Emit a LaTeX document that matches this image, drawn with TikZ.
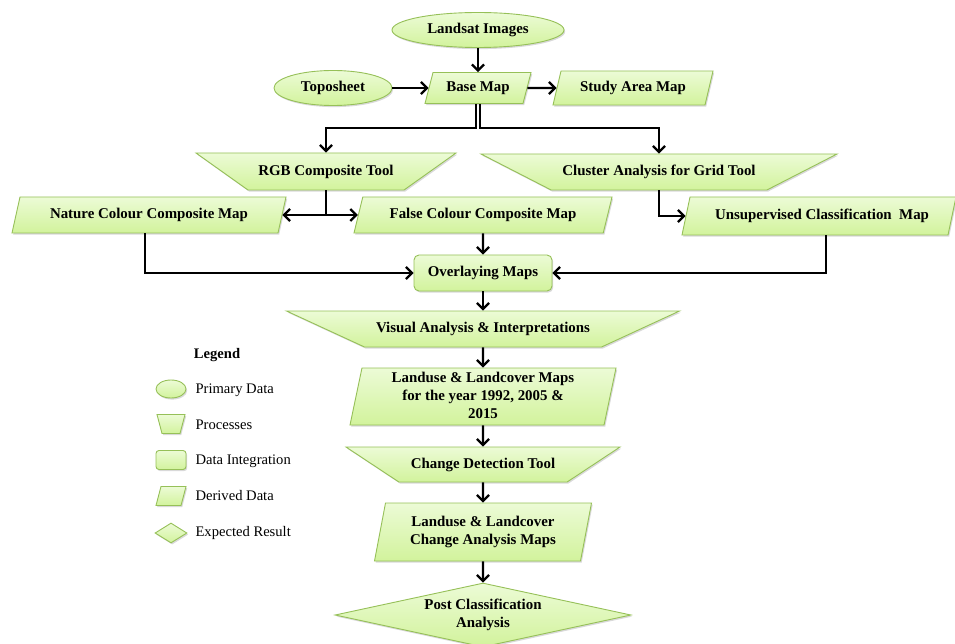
\documentclass[tikz,border=0pt]{standalone}
\usepackage{fontspec}
\setmainfont{Liberation Serif}
\usetikzlibrary{shapes.geometric,shadows,arrows.meta,calc}
\definecolor{bord}{RGB}{150,192,88}
\definecolor{ftop}{RGB}{236,251,214}
\definecolor{fbot}{RGB}{210,243,156}
\tikzset{
  box/.style={draw=bord, line width=0.9pt, top color=ftop, bottom color=fbot,
    drop shadow={shadow xshift=1.2pt, shadow yshift=-1.6pt, opacity=0.3},
    inner sep=0pt, align=center, text=black, font=\bfseries\fontsize{14.9}{18}\selectfont},
  ell/.style={box, ellipse},
  para/.style 2 args={box, trapezium, trapezium stretches body, trapezium left angle=#1, trapezium right angle=#2},
  proc/.style={box, trapezium, trapezium stretches body, trapezium left angle=#1, trapezium right angle=#1, shape border rotate=180},
  integ/.style={box, rectangle, rounded corners=5pt},
  result/.style={box, diamond, aspect=4.6},
  arr/.style={line width=2.3pt, -{Straight Barb[length=6pt,width=12pt]}},
  legtext/.style={anchor=west, font=\fontsize{14.6}{17}\selectfont},
}
\begin{document}
\begin{tikzpicture}[x=1pt,y=-1pt]
\useasboundingbox (0,0) rectangle (955,644);

% main nodes
\node[ell, minimum width=172pt, minimum height=35pt] (landsat) at (478,30) {\strut Landsat Images};
\node[ell, minimum width=118pt, minimum height=35pt] (topo) at (333,88) {\strut Toposheet};
\node[para={66}{114}, minimum width=106pt, minimum height=31pt] (base) at (478,88) {\strut Base Map};
\node[para={66}{114}, minimum width=160pt, minimum height=34pt] (study) at (633,88) {\strut Study Area Map};

\node[proc=19.1, minimum width=260pt, minimum height=37pt] (rgb) at (326,171.5) {\strut RGB Composite Tool};
\node[proc=14.4, minimum width=356pt, minimum height=36pt] (cluster) at (659,172) {\strut Cluster Analysis for Grid Tool};

\node[para={66}{114}, minimum width=274pt, minimum height=36pt] (nature) at (149,215) {\strut Nature Colour Composite Map};
\node[para={64}{116}, minimum width=258pt, minimum height=36pt] (false) at (483,215) {\strut False Colour Composite Map};
\node[para={66}{114}, minimum width=274pt, minimum height=38pt] (unsup) at (819,216) {\strut \hspace{6pt}Unsupervised Classification~~Map};

\node[integ, minimum width=138pt, minimum height=36pt] (overlay) at (483,273) {\strut Overlaying Maps};
\node[proc=13, minimum width=393pt, minimum height=36pt] (visual) at (483,329) {\strut Visual Analysis \& Interpretations};
\node[para={77.5}{102.5}, minimum width=266pt, minimum height=57pt] (lmaps) at (483,396.5) {\strut Landuse \& Landcover Maps\\\strut for the year 1992, 2005 \&\\\strut 2015};
\node[proc=18.8, minimum width=274pt, minimum height=35pt] (cdt) at (483,464.5) {\strut Change Detection Tool};
\node[para={73}{107}, minimum width=217pt, minimum height=58pt] (cmaps) at (483,532) {\strut Landuse \& Landcover\\\strut Change Analysis Maps};
\node[result, minimum width=296pt, minimum height=64pt] (post) at (483,615) {\strut Post Classification\\\strut Analysis};

% connectors
\coordinate (split) at (478,128);
\draw[arr] (landsat) -- (base);
\draw[arr] (topo) -- (base);
\draw[arr] (base) -- (study);
\draw[arr] ([xshift=-2pt]base.south) -- ([xshift=-2pt]base.south |- split) -| (rgb.north);
\draw[arr] ([xshift=2pt]base.south) -- ([xshift=2pt]base.south |- split) -| (cluster.north);
\draw[arr] (rgb.south) |- (nature.east);
\draw[arr] (rgb.south) |- (false.west);
\draw[arr] (cluster.south) |- (unsup.west);
\draw[arr] ([xshift=-4pt]nature.south) |- (overlay.west);
\draw[arr] (false.south) -- (overlay.north);
\draw[arr] ([xshift=7pt]unsup.south) |- (overlay.east);
\draw[arr] (overlay) -- (visual);
\draw[arr] (visual) -- (lmaps);
\draw[arr] (lmaps) -- (cdt);
\draw[arr] (cdt) -- (cmaps);
\draw[arr] (cmaps) -- (post);

% legend
\node[font=\bfseries\fontsize{14.6}{17}\selectfont] (legend) at (217,355) {Legend};
\node[ell, minimum width=30pt, minimum height=18pt] (l1) at (171,389) {};
\node[proc=74.5, minimum width=28pt, minimum height=19pt] (l2) at (171,424) {\strut};
\node[integ, minimum width=30pt, minimum height=19pt, rounded corners=3pt] (l3) at (171,460) {};
\node[para={74.5}{105.5}, minimum width=30pt, minimum height=19pt] (l4) at (171,496) {\strut};
\node[box, diamond, minimum width=32pt, minimum height=20pt] (l5) at (171,533) {};
\node[legtext] (t1) at (192,390) {Primary Data};
\node[legtext] (t2) at (192,425) {Processes};
\node[legtext] (t3) at (192,461) {Data Integration};
\node[legtext] (t4) at (192,496) {Derived Data};
\node[legtext] (t5) at (192,533) {Expected Result};
\end{tikzpicture}
\end{document}
